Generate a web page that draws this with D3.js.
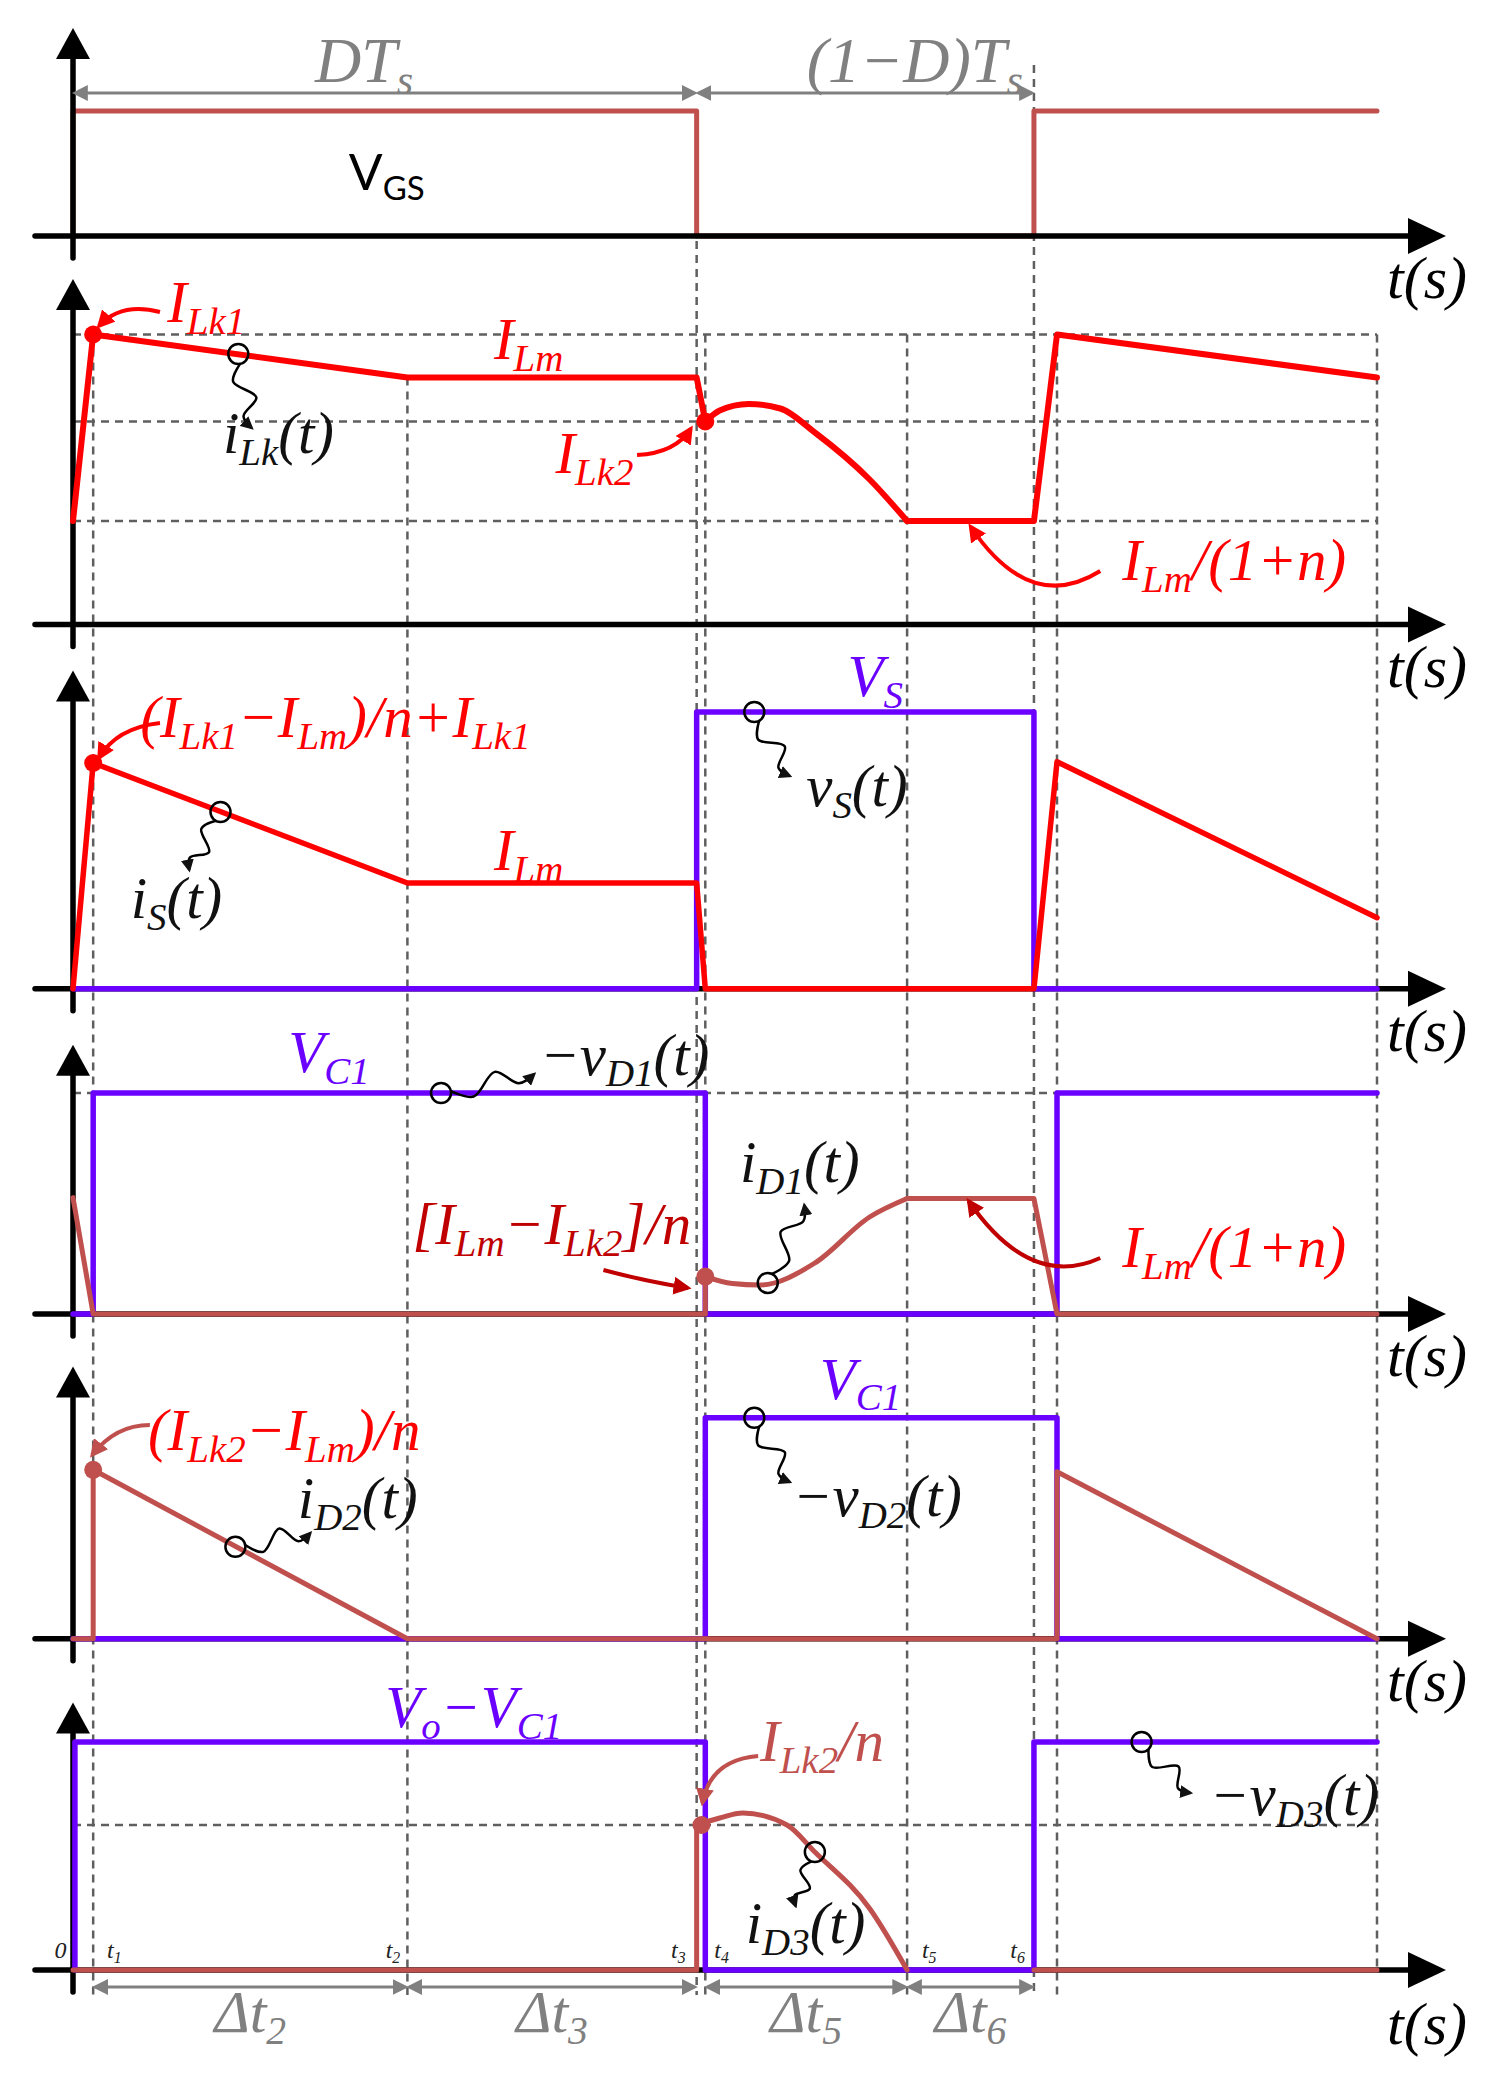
<!DOCTYPE html>
<html>
<head>
<meta charset="utf-8">
<script src="https://cdnjs.cloudflare.com/ajax/libs/d3/7.8.5/d3.min.js"></script>
<style>
  body { margin: 0; background: #fff; }
  .serif { font-family: Liberation Serif, serif; }
  .sans { font-family: Lato, Liberation Sans, sans-serif; }
</style>
</head>
<body>
<div id="chart"></div>
<script>
// switching instants (Ts = 100)
const t1 = 2.1, t2 = 34.8, t3 = 64.9, t4 = 65.8, t5 = 86.8, t6 = 100, t7 = 102.4, tEnd = 135.7;

// panel 1 : gate signal
const vGS = [[0, 0], [0, 125], [t3, 125], [t3, 0], [t6, 0], [t6, 125], [tEnd, 125]];

// panel 2 : leakage inductor current
const iLkA = [[0, 103.5], [t1, 290], [t2, 247], [t3, 247], [t4, 203]];
const iLkB = [[t4, 203], [67.3, 214], [70.3, 220.5], [73.6, 216], [77.2, 192], [82.9, 145], [t5, 103.5]];
const iLkC = [[t5, 103.5], [t6, 103.5], [t7, 290], [tEnd, 247]];

// panel 3 : switch
const vS = [[0, 0], [t3, 0], [t3, 276.7], [t6, 276.7], [t6, 0], [tEnd, 0]];
const iS = [[0, 0], [t1, 225.7], [t2, 105.7], [t3, 105.7], [t4, 0], [t6, 0], [t7, 227], [tEnd, 71]];

// panel 4 : diode D1
const vD1 = [[0, 0], [t1, 0], [t1, 221], [t4, 221], [t4, 0], [t7, 0], [t7, 221], [tEnd, 221]];
const iD1A = [[0, 116.4], [t1, 0], [t4, 0], [t4, 37.4]];
const iD1B = [[t4, 37.4], [68.6, 30.5], [71.5, 29], [77.2, 51], [82.9, 97], [t5, 115.5]];
const iD1C = [[t5, 115.5], [t6, 115.5], [t7, 0], [tEnd, 0]];

// panel 5 : diode D2
const vD2 = [[0, 0], [t4, 0], [t4, 221], [t7, 221], [t7, 0], [tEnd, 0]];
const iD2 = [[0, 0], [t1, 0], [t1, 169], [t2, 0], [t7, 0], [t7, 167], [tEnd, 0]];

// panel 6 : diode D3
const vD3 = [[0.2, 0], [0.2, 228], [t4, 228], [t4, 0], [t6, 0], [t6, 228], [tEnd, 228]];
const iD3A = [[0, 0], [t3, 0], [t3, 145]];
const iD3B = [[t3, 145], [67.3, 152], [69.7, 157], [74.3, 145], [77.2, 118], [82.9, 61.5], [t5, 0]];
const iD3C = [[t6, 0], [tEnd, 0]];

// marked points
const dots = [[1, t1, 290, "red"], [1, t4, 203, "red"], [2, t1, 225.7, "red"],
              [3, t4, 37.4, "brown"], [4, t1, 169, "brown"], [5, 65.4, 145, "brown"]];

// dashed reference levels
const hGrid = [[1, 290], [1, 203], [1, 103.5], [3, 221], [5, 145]];
const vGrid = [[t1, 1, 290], [t2, 1, 247], [t3, 0, -5], [t4, 1, 290], [t5, 1, 290],
               [t6, 0, 171], [t7, 1, 290], [tEnd, 1, 290]];

// time marks under the last panel
const tickNames = ["0", "t_{1}", "t_{2}", "t_{3}", "t_{4}", "t_{5}", "t_{6}"];
const tickPos = [-1.3, 4.3, 33.3, 63.0, 67.5, 89.1, 98.3];

// interval dimensions
const topDims = [[0, t3, "DT_{s}", 30.3], [t3, t6, "(1−D)T_{s}", 87.6]];
const bottomDims = [[t1, t2, "Δt_{2}"], [t2, t3, "Δt_{3}"], [t4, t5, "Δt_{5}"], [t5, t6, "Δt_{6}"]];

// text labels: panel, t, v, text, colour
const labels = [
  [1, 9.8, 302.5, "I_{Lk1}", "red"],
  [1, 43.8, 265.5, "I_{Lm}", "red"],
  [1, 15.6, 171.5, "i_{Lk}(t)", "black"],
  [1, 50.2, 151.5, "I_{Lk2}", "red"],
  [1, 109.2, 44.5, "I_{Lm}/(1+n)", "red"],
  [2, 7.0, 251.7, "(I_{Lk1}−I_{Lm})/n+I_{Lk1}", "red"],
  [2, 43.8, 118.7, "I_{Lm}", "red"],
  [2, 6.0, 70.7, "i_{S}(t)", "black"],
  [2, 80.6, 292.7, "V_{S}", "blue"],
  [2, 76.3, 182.7, "v_{S}(t)", "black"],
  [3, 22.4, 242, "V_{C1}", "blue"],
  [3, 48.6, 239.5, "−v_{D1}(t)", "black"],
  [3, 35.3, 70, "[I_{Lm}−I_{Lk2}]/n", "dark"],
  [3, 69.4, 132, "i_{D1}(t)", "black"],
  [3, 109.2, 47, "I_{Lm}/(1+n)", "red"],
  [4, 7.8, 188.8, "(I_{Lk2}−I_{Lm})/n", "red"],
  [4, 23.4, 121, "i_{D2}(t)", "black"],
  [4, 77.7, 240.3, "V_{C1}", "blue"],
  [4, 74.9, 122.8, "−v_{D2}(t)", "black"],
  [5, 32.5, 243, "V_{o}−V_{C1}", "blue"],
  [5, 71.5, 209, "I_{Lk2}/n", "brown"],
  [5, 70.0, 27, "i_{D3}(t)", "black"],
  [5, 118.3, 155, "−v_{D3}(t)", "black"]
];

// curved pointers: panel, from, control, to, colour
const pointers = [
  [1, [9.05, 312.5], [5.0, 322.5], [2.7, 298.5], "red"],
  [1, [58.7, 169.5], [62.7, 171.5], [64.3, 195.9], "red"],
  [1, [106.9, 53.5], [99.6, 9.5], [93.4, 98], "red"],
  [2, [9.05, 265.7], [4.5, 260.7], [2.7, 230.7], "red"],
  [3, [55.2, 44], [59.5, 33], [64.0, 26], "dark"],
  [3, [106.9, 56], [99.6, 24], [93.2, 113], "dark"],
  [4, [8.0, 213.8], [4.4, 213.8], [2.0, 183.8], "brown"],
  [5, [71.3, 214], [66.3, 210], [65.5, 167], "brown"]
];

// wavy pointers: panel, circle, arrow end
const squiggles = [
  [1, [17.2, 270.5], [18.6, 196.5]],
  [2, [15.35, 176.7], [12.1, 118.7]],
  [2, [70.9, 276.7], [74.6, 212.7]],
  [3, [38.3, 221], [48.0, 240]],
  [3, [72.3, 31], [76.1, 109]],
  [4, [16.9, 92], [24.7, 105.8]],
  [4, [70.9, 221], [74.6, 156.8]],
  [5, [77.2, 118], [75.2, 64]],
  [5, [111.2, 228], [116.3, 177]]
];

const colors = {red: "#ff0000", blue: "#6a00ff", brown: "#c0504d", dark: "#c00000", black: "#111", gray: "#808080"};

const W = 1511, H = 2089;
const panelBase = [236, 624.5, 988.7, 1314, 1638.8, 1970];
const panelTop = [28, 279, 670.5, 1044.7, 1366.6, 1702.5];

const svg = d3.select("#chart").append("svg")
    .attr("width", W)
    .attr("height", H)
    .style("display", "block");

const x = d3.scaleLinear().domain([0, tEnd]).range([73, 1377]);
const ys = panelBase.map(b => d3.scaleLinear().domain([0, 300]).range([b, b - 300]));
const P = (p, d) => [x(d[0]), ys[p](d[1])];

const defs = svg.append("defs");
function marker(id, color, size) {
    defs.append("marker")
        .attr("id", id)
        .attr("viewBox", "0 0 10 10")
        .attr("refX", 8).attr("refY", 5)
        .attr("markerWidth", size).attr("markerHeight", size)
        .attr("markerUnits", "userSpaceOnUse")
        .attr("orient", "auto-start-reverse")
        .append("path").attr("d", "M0,0L10,5L0,10z").attr("fill", color);
}
Object.keys(colors).forEach(k => marker("m-" + k, colors[k], k === "gray" ? 16 : (k === "black" ? 13 : 18)));

// rich text with subscripts written as _{..}
function rich(sel, str, o) {
    const size = o.size;
    const t = sel.append("text")
        .attr("class", o.cls || "serif")
        .attr("x", o.x).attr("y", o.y)
        .style("font-style", o.italic === false ? "normal" : "italic")
        .style("font-size", size + "px")
        .attr("fill", o.color)
        .attr("text-anchor", o.anchor || "start");
    const re = /_\{([^}]*)\}|[^_]+/g;
    let m, off = 0;
    const sub = o.sub || 0.2;
    while ((m = re.exec(str)) !== null) {
        if (m[1] !== undefined) {
            t.append("tspan").attr("dy", size * sub - off).style("font-size", (size * 0.66) + "px").text(m[1]);
            off = size * sub;
        } else {
            t.append("tspan").attr("dy", -off).text(m[0]);
            off = 0;
        }
    }
    return t;
}

// ---- dashed grid
const grid = svg.append("g")
    .attr("stroke", "#5f5f5f")
    .attr("stroke-width", 2.5)
    .attr("stroke-dasharray", "8,6")
    .attr("fill", "none");

hGrid.forEach(d => {
    grid.append("line")
        .attr("x1", x(0)).attr("x2", x(tEnd))
        .attr("y1", ys[d[0]](d[1])).attr("y2", ys[d[0]](d[1]));
});
vGrid.forEach(d => {
    const yEnd = d[0] === tEnd ? ys[5](0) : ys[5](-25);
    grid.append("line")
        .attr("x1", x(d[0])).attr("x2", x(d[0]))
        .attr("y1", ys[d[1]](d[2])).attr("y2", yEnd);
});

// ---- waveforms
function wave(p, pts, color, w, smooth) {
    const line = d3.line()
        .x(d => x(d[0]))
        .y(d => ys[p](d[1]))
        .curve(smooth ? d3.curveMonotoneX : d3.curveLinear);
    svg.append("path")
        .attr("d", line(pts))
        .attr("fill", "none")
        .attr("stroke", colors[color])
        .attr("stroke-width", w)
        .attr("stroke-linejoin", "round")
        .attr("stroke-linecap", "round");
}

// ---- axes
function axes(p) {
    const g = svg.append("g").attr("fill", "#000");
    const b = panelBase[p], top = panelTop[p], x0 = x(0);
    const tip = x(tEnd) + 69;
    g.append("line").attr("x1", x0).attr("x2", x0).attr("y1", top + 25).attr("y2", b + 22)
        .attr("stroke", "#000").attr("stroke-width", 5.5).attr("stroke-linecap", "round");
    g.append("path").attr("d", `M${x0},${top}L${x0 - 17},${top + 31}L${x0 + 17},${top + 31}Z`);
    g.append("line").attr("x1", 35).attr("x2", tip - 30).attr("y1", b).attr("y2", b)
        .attr("stroke", "#000").attr("stroke-width", 5.5).attr("stroke-linecap", "round");
    g.append("path").attr("d", `M${tip},${b}L${tip - 38},${b - 18}L${tip - 38},${b + 18}Z`);
    rich(svg, "t(s)", {x: tip - 19, y: b + (p === 5 ? 74 : 62), size: 60, color: "#000", anchor: "middle"});
}

wave(0, vGS, "brown", 5, false);
panelBase.forEach((b, i) => axes(i));

wave(1, iLkA, "red", 6, false);
wave(1, iLkB, "red", 6, true);
wave(1, iLkC, "red", 6, false);

wave(2, vS, "blue", 5.5, false);
wave(2, iS, "red", 5.5, false);

wave(3, vD1, "blue", 5.5, false);
wave(3, iD1A, "brown", 5, false);
wave(3, iD1B, "brown", 5, true);
wave(3, iD1C, "brown", 5, false);

wave(4, vD2, "blue", 5.5, false);
wave(4, iD2, "brown", 5, false);

wave(5, vD3, "blue", 5.5, false);
wave(5, iD3A, "brown", 5, false);
wave(5, iD3B, "brown", 5, true);
wave(5, iD3C, "brown", 5, false);

// ---- dots
svg.append("g").selectAll("circle")
    .data(dots)
    .join("circle")
    .attr("cx", d => x(d[1]))
    .attr("cy", d => ys[d[0]](d[2]))
    .attr("r", 9)
    .attr("fill", d => colors[d[3]]);

// ---- dimension arrows
function dim(p, a, b, v) {
    svg.append("line")
        .attr("x1", x(a) + 2).attr("x2", x(b) - 2)
        .attr("y1", ys[p](v)).attr("y2", ys[p](v))
        .attr("stroke", colors.gray).attr("stroke-width", 3)
        .attr("marker-start", "url(#m-gray)")
        .attr("marker-end", "url(#m-gray)");
}
topDims.forEach(d => {
    dim(0, d[0], d[1], 143);
    rich(svg, d[2], {x: x(d[3]), y: ys[0](154), size: 64, color: colors.gray, anchor: "middle", sub: 0.18});
});
bottomDims.forEach(d => {
    dim(5, d[0], d[1], -17);
    rich(svg, d[2], {x: x((d[0] + d[1]) / 2), y: ys[5](-62), size: 60, color: colors.gray, anchor: "middle", sub: 0.2});
});

// ---- time marks
tickNames.forEach((s, i) => {
    rich(svg, s, {x: x(tickPos[i]), y: ys[5](12), size: 24, color: "#222", anchor: "middle"});
});

// ---- gate label
rich(svg, "V_{GS}", {x: x(28.7), y: ys[0](46), size: 50, color: "#000", italic: false, cls: "sans", sub: 0.2});

// ---- labels
labels.forEach(d => {
    rich(svg, d[3], {x: x(d[1]), y: ys[d[0]](d[2]), size: 59, color: colors[d[4]]});
});

// ---- curved pointers
pointers.forEach(d => {
    const a = P(d[0], d[1]), c = P(d[0], d[2]), b = P(d[0], d[3]);
    svg.append("path")
        .attr("d", `M${a[0]},${a[1]}Q${c[0]},${c[1]} ${b[0]},${b[1]}`)
        .attr("fill", "none")
        .attr("stroke", colors[d[4]])
        .attr("stroke-width", 4)
        .attr("marker-end", `url(#m-${d[4]})`);
});

// ---- wavy pointers with small circles
const wavy = d3.line().curve(d3.curveCatmullRom);
squiggles.forEach(d => {
    const c = P(d[0], d[1]), e = P(d[0], d[2]);
    const r = 10;
    const dx = e[0] - c[0], dy = e[1] - c[1];
    const L = Math.hypot(dx, dy);
    const ux = dx / L, uy = dy / L, nx = -uy, ny = ux;
    const s = [c[0] + ux * r, c[1] + uy * r];
    const len = L - r, a = Math.min(10, len * 0.16);
    const pt = (f, k) => [s[0] + ux * len * f + nx * a * k, s[1] + uy * len * f + ny * a * k];
    svg.append("circle")
        .attr("cx", c[0]).attr("cy", c[1]).attr("r", r)
        .attr("fill", "none").attr("stroke", "#000").attr("stroke-width", 2.5);
    svg.append("path")
        .attr("d", wavy([s, pt(0.25, 1), pt(0.55, -1), pt(0.8, 0.6), e]))
        .attr("fill", "none")
        .attr("stroke", "#000")
        .attr("stroke-width", 2.5)
        .attr("marker-end", "url(#m-black)");
});
</script>
</body>
</html>
